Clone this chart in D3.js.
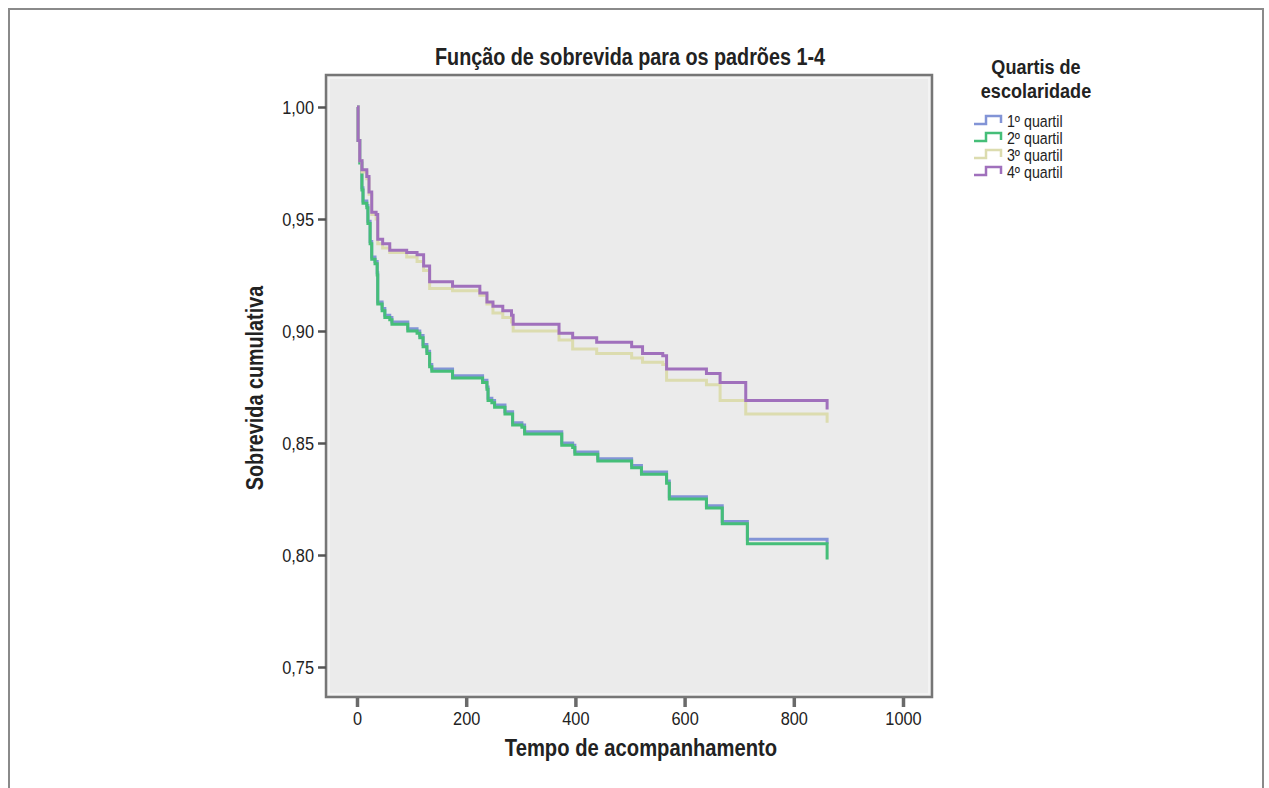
<!DOCTYPE html>
<html>
<head>
<meta charset="utf-8">
<script src="https://cdn.jsdelivr.net/npm/d3@7"></script>
<style>
  body { margin: 0; background: #fff; }
  svg { display: block; }
  text { font-family: "Liberation Sans", Arial, sans-serif; fill: #222; }
  .bold { font-weight: bold; }
</style>
</head>
<body>
<svg id="chart"></svg>
<script>
// survival steps (time in days, cumulative survival)
const timesLow = [0, 2, 5, 9, 11, 18, 20, 24, 27, 33, 37, 38, 46, 51, 60, 64, 93, 110, 115, 121, 128, 133, 137, 175, 230, 238, 240, 247, 252, 271, 285, 302, 307, 375, 395, 399, 441, 503, 521, 567, 572, 640, 669, 715, 861];
const q1 = [1.000, 0.985, 0.976, 0.964, 0.958, 0.956, 0.949, 0.940, 0.933, 0.931, 0.926, 0.913, 0.910, 0.907, 0.906, 0.904, 0.901, 0.900, 0.898, 0.894, 0.891, 0.885, 0.883, 0.880, 0.878, 0.875, 0.870, 0.869, 0.867, 0.864, 0.859, 0.858, 0.855, 0.850, 0.849, 0.846, 0.843, 0.840, 0.837, 0.833, 0.826, 0.822, 0.815, 0.807, 0.805];
const q2 = [1.000, 0.985, 0.975, 0.963, 0.957, 0.955, 0.948, 0.939, 0.932, 0.930, 0.925, 0.912, 0.909, 0.906, 0.905, 0.903, 0.900, 0.899, 0.897, 0.893, 0.890, 0.884, 0.882, 0.879, 0.877, 0.874, 0.869, 0.868, 0.866, 0.863, 0.858, 0.857, 0.854, 0.849, 0.848, 0.845, 0.842, 0.839, 0.836, 0.832, 0.825, 0.821, 0.814, 0.805, 0.798];

const timesHigh = [0, 2, 5, 9, 18, 22, 27, 35, 38, 47, 60, 91, 110, 122, 133, 175, 225, 238, 249, 267, 283, 286, 370, 395, 439, 503, 523, 560, 567, 640, 665, 712, 861];
const q3 = [1.000, 0.985, 0.976, 0.971, 0.968, 0.961, 0.952, 0.950, 0.939, 0.937, 0.935, 0.933, 0.931, 0.927, 0.919, 0.918, 0.916, 0.912, 0.908, 0.906, 0.904, 0.900, 0.896, 0.892, 0.890, 0.888, 0.886, 0.885, 0.878, 0.876, 0.869, 0.863, 0.859];
const q4 = [1.000, 0.985, 0.976, 0.972, 0.969, 0.962, 0.953, 0.952, 0.941, 0.939, 0.936, 0.935, 0.934, 0.929, 0.922, 0.920, 0.917, 0.913, 0.911, 0.909, 0.907, 0.903, 0.899, 0.897, 0.895, 0.893, 0.890, 0.889, 0.883, 0.881, 0.877, 0.869, 0.865];

const seriesNames = ['1º quartil', '2º quartil', '3º quartil', '4º quartil'];
const seriesColors = ['#8294d6', '#45be78', '#dcdcaf', '#a070bc'];
const xTicks = [0, 200, 400, 600, 800, 1000];
const yTicks = [0.75, 0.80, 0.85, 0.90, 0.95, 1.00];

const series = [
  {name: seriesNames[0], color: seriesColors[0], times: timesLow, values: q1},
  {name: seriesNames[1], color: seriesColors[1], times: timesLow, values: q2},
  {name: seriesNames[2], color: seriesColors[2], times: timesHigh, values: q3},
  {name: seriesNames[3], color: seriesColors[3], times: timesHigh, values: q4},
];

const fullWidth = 1269;
const fullHeight = 788;
const frame = {left: 326, top: 75, right: 932, bottom: 697};
const narrow = 0.86; // horizontal squeeze to mimic the condensed face of the original

const svg = d3.select('#chart')
  .attr('width', fullWidth)
  .attr('height', fullHeight);

// outer figure border (open at the bottom)
svg.append('path')
  .attr('d', `M9,${fullHeight + 5}V9H1263V${fullHeight + 5}`)
  .attr('fill', 'none')
  .attr('stroke', '#8a8a8a')
  .attr('stroke-width', 2);

const x = d3.scaleLinear().domain([0, 1000]).range([357, 903]);
const y = d3.scaleLinear().domain([0.75, 1.0]).range([667, 107]);

const ptBR = d3.formatLocale({decimal: ',', thousands: '.', grouping: [3], currency: ['R$', '']});
const fmt = ptBR.format('.2f');

function label(parent, px, py, txt, size, opts = {}) {
  const g = parent.append('g')
    .attr('transform', `translate(${px},${py})${opts.rotate ? ` rotate(${opts.rotate})` : ''} scale(${narrow},1)`);
  return g.append('text')
    .attr('class', opts.bold ? 'bold' : null)
    .attr('text-anchor', opts.anchor || 'middle')
    .style('font-size', `${size}px`)
    .text(txt);
}

// plot background and frame
svg.append('rect')
  .attr('x', frame.left).attr('y', frame.top)
  .attr('width', frame.right - frame.left).attr('height', frame.bottom - frame.top)
  .attr('fill', '#ebebeb')
  .attr('stroke', '#767676')
  .attr('stroke-width', 2.5);

svg.append('rect')
  .attr('x', frame.left + 3).attr('y', frame.top + 3)
  .attr('width', frame.right - frame.left - 6).attr('height', frame.bottom - frame.top - 6)
  .attr('fill', 'none')
  .attr('stroke', '#f6f6f6')
  .attr('stroke-width', 1.5);

// y axis
const yAxis = svg.append('g')
  .attr('transform', `translate(${frame.left},0)`)
  .call(d3.axisLeft(y).tickValues(yTicks).tickFormat(fmt).tickSize(8).tickPadding(4));
yAxis.select('.domain').remove();
yAxis.selectAll('line').attr('stroke', '#555').attr('stroke-width', 2.5);
yAxis.selectAll('text')
  .attr('x', -12 / narrow)
  .attr('transform', `scale(${narrow},1)`)
  .style('font-size', '19px').attr('fill', '#333');

// x axis
const xAxis = svg.append('g')
  .attr('transform', `translate(0,${frame.bottom + 1})`)
  .call(d3.axisBottom(x).tickValues(xTicks).tickFormat(d3.format('d')).tickSize(9).tickPadding(5));
xAxis.select('.domain').remove();
xAxis.selectAll('line').attr('stroke', '#6a6a6a').attr('stroke-width', 3.5);
xAxis.selectAll('text')
  .attr('transform', `scale(${narrow},1)`)
  .style('font-size', '19px').attr('fill', '#333');

// survival curves
const line = d3.line()
  .x(d => x(d[0]))
  .y(d => y(d[1]))
  .curve(d3.curveStepAfter);

svg.append('g')
  .selectAll('path')
  .data(series)
  .join('path')
    .attr('d', s => {
      const pts = s.times.map((t, i) => [t, s.values[i]]);
      // final censor drop is vertical at the last time
      const last = pts.pop();
      const prev = pts[pts.length - 1];
      pts.push([last[0], prev[1]]);
      return line(pts) + `V${y(last[1])}`;
    })
    .attr('fill', 'none')
    .attr('stroke', s => s.color)
    .attr('stroke-width', 3)
    .attr('stroke-linejoin', 'miter');

// titles
label(svg, 630, 65, 'Função de sobrevida para os padrões 1-4', 23, {bold: true});
label(svg, 641, 756, 'Tempo de acompanhamento', 23.5, {bold: true});
label(svg, 263, (frame.top + frame.bottom) / 2 + 2, 'Sobrevida cumulativa', 23, {bold: true, rotate: -90});

// legend
const legend = svg.append('g').attr('transform', 'translate(973,0)');

label(legend, 63, 74, 'Quartis de', 21, {bold: true});
label(legend, 63, 98, 'escolaridade', 21, {bold: true});

const item = legend.selectAll('.item')
  .data(series)
  .join('g')
    .attr('class', 'item')
    .attr('transform', (d, i) => `translate(0,${121 + i * 17})`);

item.append('path')
  .attr('d', 'M1,3H13V-5H28V2')
  .attr('fill', 'none')
  .attr('stroke', d => d.color)
  .attr('stroke-width', 2.5);

item.append('text')
  .attr('x', 34 / narrow).attr('y', 6)
  .attr('transform', `scale(${narrow},1)`)
  .style('font-size', '16.5px')
  .attr('fill', '#222')
  .text(d => d.name);
</script>
</body>
</html>
